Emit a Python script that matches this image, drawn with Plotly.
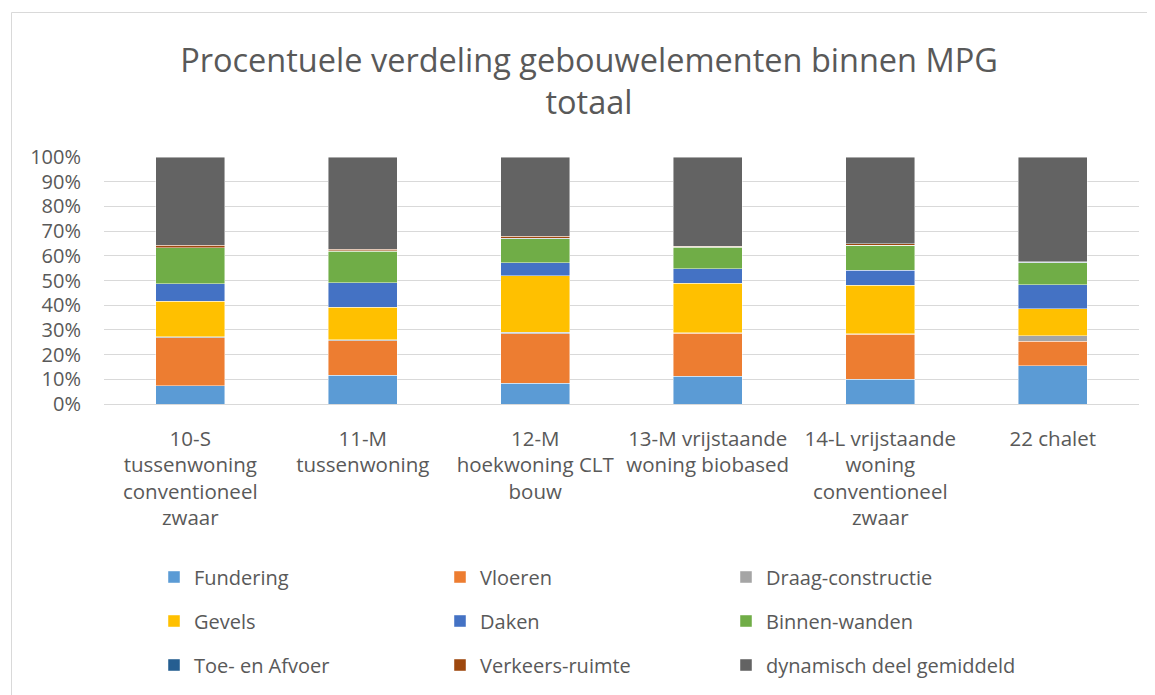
import plotly.graph_objects as go

categories = [
    "10-S<br>tussenwoning<br>conventioneel<br>zwaar",
    "11-M<br>tussenwoning",
    "12-M<br>hoekwoning CLT<br>bouw",
    "13-M vrijstaande<br>woning biobased",
    "14-L vrijstaande<br>woning<br>conventioneel<br>zwaar",
    "22 chalet",
]

fundering = [7.3, 11.6, 8.5, 11.2, 10.1, 15.4]
vloeren = [19.6, 14.1, 20.0, 17.4, 18.1, 10.1]
draag = [0.3, 0.4, 0.5, 0.3, 0.3, 2.1]
gevels = [14.4, 13.0, 23.0, 20.0, 19.5, 11.0]
daken = [7.0, 10.0, 5.2, 5.8, 6.1, 9.6]
binnen = [14.6, 12.8, 9.8, 8.8, 10.1, 9.0]
toe_afvoer = [0.1, 0.1, 0.1, 0.1, 0.1, 0.1]
verkeers = [1.0, 0.6, 0.8, 0.3, 0.6, 0.2]
dynamisch = [35.7, 37.4, 32.1, 36.1, 35.1, 42.5]

series = [
    ("Fundering", fundering, "#5B9BD5", "legend"),
    ("Vloeren", vloeren, "#ED7D31", "legend"),
    ("Draag-constructie", draag, "#A5A5A5", "legend"),
    ("Gevels", gevels, "#FFC000", "legend2"),
    ("Daken", daken, "#4472C4", "legend2"),
    ("Binnen-wanden", binnen, "#70AD47", "legend2"),
    ("Toe- en Afvoer", toe_afvoer, "#255E91", "legend3"),
    ("Verkeers-ruimte", verkeers, "#9E480E", "legend3"),
    ("dynamisch deel gemiddeld", dynamisch, "#636363", "legend4"),
]

FONT = "Open Sans"
TXT = "#595959"

fig = go.Figure()
for name, vals, color, lg in series:
    fig.add_trace(go.Bar(
        x=categories, y=vals, name=name, legend=lg,
        marker=dict(color=color, line=dict(color="rgba(255,255,255,0.6)", width=0.75)),
    ))

# page has an 8px body margin; work in figure coordinates
W, H = 1147, 687
L, R, T, B = 96, 1131, 149, 396
pw, ph = R - L, B - T

def px_x(x):
    return (x - L) / pw

def px_y(y):
    return (B - y) / ph

leg_common = dict(
    orientation="h", xanchor="left", yanchor="middle",
    font=dict(family=FONT, size=20, color=TXT),
    entrywidth=241, bgcolor="rgba(0,0,0,0)", traceorder="normal",
    itemclick=False,
)

fig.update_layout(
    width=W, height=H,
    margin=dict(l=L, r=W - R, t=T, b=H - B, autoexpand=False),
    barmode="stack", bargap=0.6,
    plot_bgcolor="white", paper_bgcolor="white",
    title=dict(
        text="Procentuele verdeling gebouwelementen binnen MPG<br>totaal",
        x=581 / W, xanchor="center", y=1 - 64 / H, yanchor="middle",
        font=dict(family=FONT, size=32.5, color=TXT),
    ),
    font=dict(family=FONT, color=TXT),
    legend=dict(x=px_x(146), y=px_y(569), **leg_common),
    legend2=dict(x=px_x(146), y=px_y(613), **leg_common),
    legend3=dict(x=px_x(146), y=px_y(657), **leg_common),
    legend4=dict(x=px_x(718), y=px_y(657), **{**leg_common, "entrywidth": 0}),
    yaxis=dict(
        range=[0, 100], dtick=10, ticksuffix="%",
        showgrid=True, gridcolor="#D9D9D9", gridwidth=1,
        zeroline=True, zerolinecolor="#D9D9D9", zerolinewidth=1,
        tickfont=dict(family=FONT, size=20, color=TXT),
        ticklabelstandoff=22, showline=False,
    ),
    xaxis=dict(
        showline=False, showgrid=False,
        tickfont=dict(family=FONT, size=20.5, color=TXT),
        ticklabelstandoff=20,
    ),
    shapes=[dict(
        type="rect", xref="paper", yref="paper",
        x0=px_x(3.5), x1=px_x(1160), y0=px_y(705), y1=px_y(4.5),
        line=dict(color="#D9D9D9", width=1), fillcolor="rgba(0,0,0,0)",
        layer="below",
    )],
)

fig.write_html("out.html")
